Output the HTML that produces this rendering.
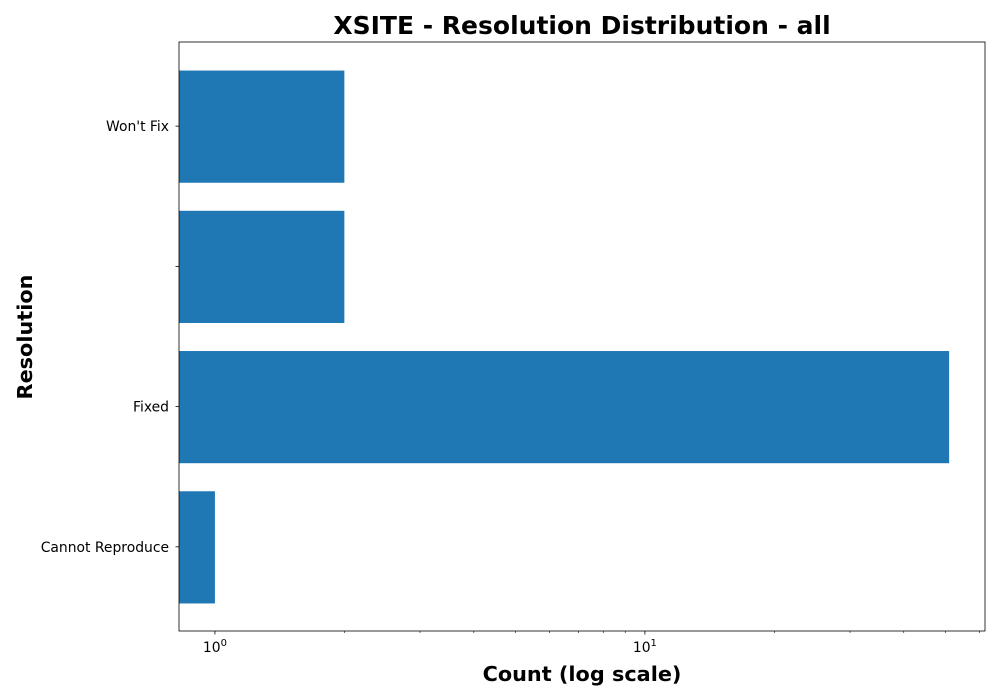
<!DOCTYPE html>
<html><head><meta charset="utf-8"><style>body{margin:0;background:#fff}svg{display:block;font-family:"DejaVu Sans","Liberation Sans",sans-serif}</style></head>
<body>
<svg id="chart" width="1000" height="700"></svg>
<script>
const categories = ["Cannot Reproduce", "Fixed", "", "Won't Fix"];
const counts = [1, 51, 2, 2];
const majorTicks = [1, 10];
const majorLabels = ["0", "1"];
const minorTicks = [2,3,4,5,6,7,8,9,20,30,40,50,60];

const NS = "http://www.w3.org/2000/svg";
const svg = document.getElementById("chart");
const L = 179, R = 985, T = 42, B = 631;
const xmin = 0.825, xmax = 61.8;
const xs = v => L + (Math.log10(v) - Math.log10(xmin)) / (Math.log10(xmax) - Math.log10(xmin)) * (R - L);
const n = categories.length;
const ymin = -0.6, ymax = n - 1 + 0.6;
const ys = i => B - (i - ymin) / (ymax - ymin) * (B - T);
function el(tag, attrs, text) {
  const e = document.createElementNS(NS, tag);
  for (const k in attrs) e.setAttribute(k, attrs[k]);
  if (text !== undefined) e.textContent = text;
  svg.appendChild(e);
  return e;
}
const bh = 0.8 * (B - T) / (ymax - ymin);
counts.forEach((c, i) => {
  const r = el("rect", {x: L, y: ys(i) - bh / 2 + 0.5, width: xs(c) - L, height: bh, fill: "#1f77b4"});
  
  
  const t = el("line", {x1: L, x2: L - 3.5, y1: ys(i), y2: ys(i), stroke: "#000", "stroke-width": 0.8});
  
  
  const lb = el("text", {x: L - 10, y: ys(i) + 5, "text-anchor": "end", "font-size": 13.9}, categories[i]);
  
  
});
majorTicks.forEach((v, i) => {
  const t = el("line", {x1: xs(v), x2: xs(v), y1: B, y2: B + 3.5, stroke: "#000", "stroke-width": 0.8});
  
  
  const lb = el("text", {x: xs(v), y: B + 21, "text-anchor": "middle", "font-size": 13.9});
  
  
  lb.innerHTML = '10<tspan dy="-6" font-size="10">' + majorLabels[i] + '</tspan>';
});
minorTicks.forEach(v => {
  const t = el("line", {x1: xs(v), x2: xs(v), y1: B, y2: B + 2, stroke: "#000", "stroke-width": 0.6});
  
  
});
const frame = el("rect", {x: L, y: T, width: R - L, height: B - T, fill: "none", stroke: "#000", "stroke-width": 0.8});


const title = el("text", {x: 582, y: 34, "text-anchor": "middle", "font-size": 25, "font-weight": "bold"}, "XSITE - Resolution Distribution - all");


const xt = el("text", {x: 582, y: 681, "text-anchor": "middle", "font-size": 20.8, "font-weight": "bold"}, "Count (log scale)");


const yt = el("text", {x: 32, y: 337, "text-anchor": "middle", "font-size": 20.8, "font-weight": "bold", transform: "rotate(-90 32 337)"}, "Resolution");


</script>
</body></html>
